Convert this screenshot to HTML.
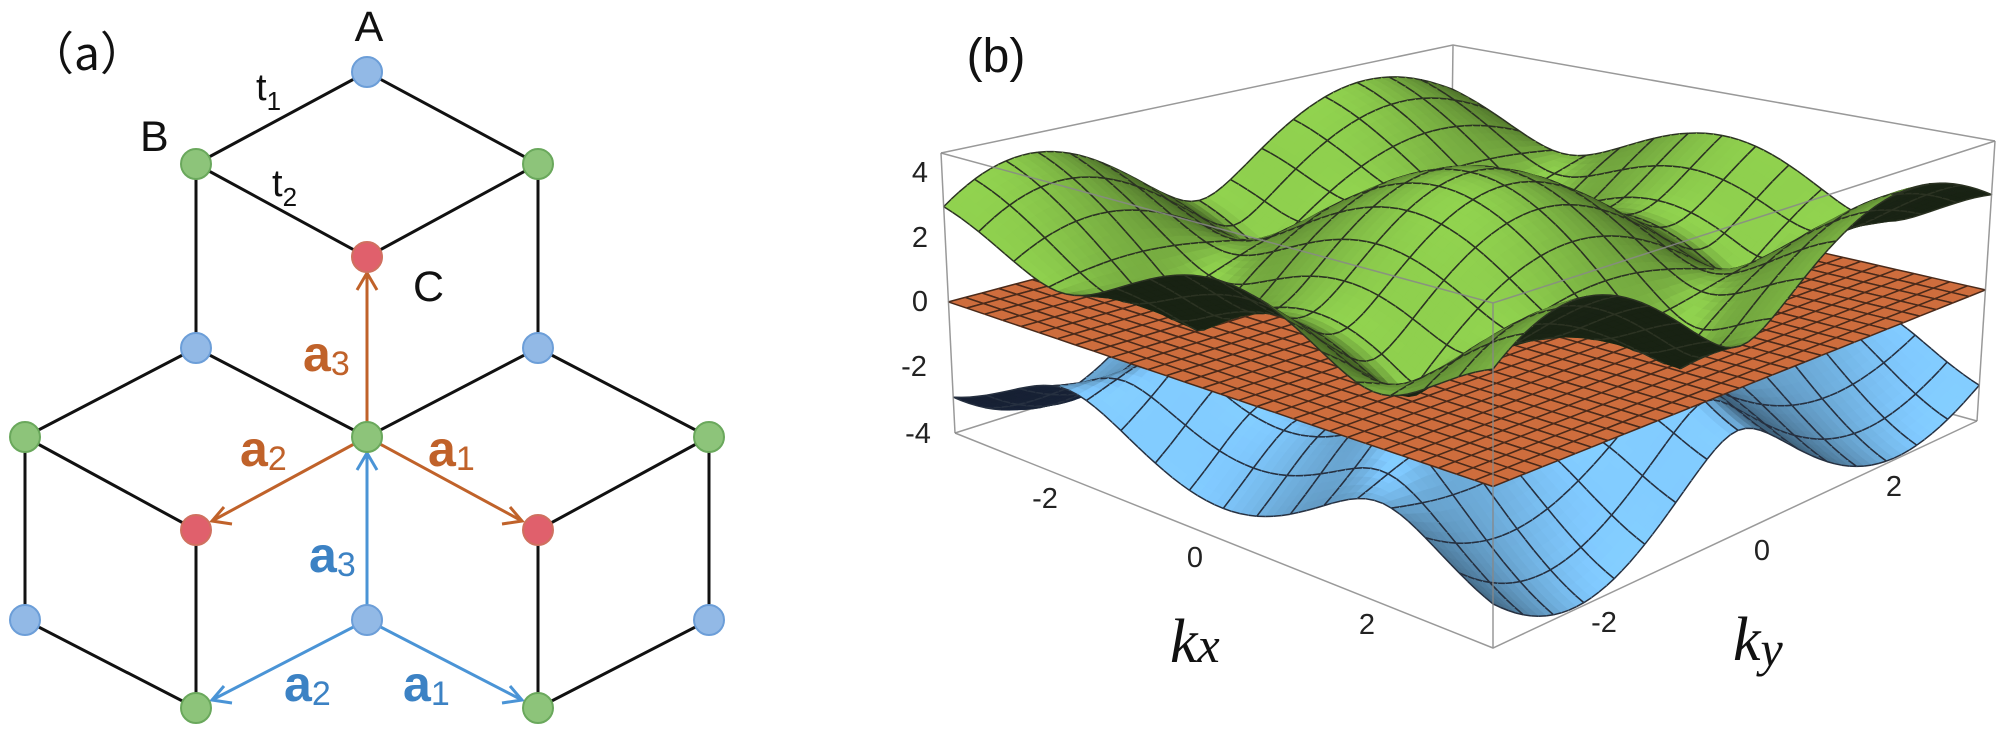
<!DOCTYPE html>
<html><head><meta charset="utf-8"><style>
html,body{margin:0;padding:0;background:#fff;}
svg{display:block;}
</style></head><body>
<svg id="s" width="2004" height="749" viewBox="0 0 2004 749" xmlns="http://www.w3.org/2000/svg">
<rect width="2004" height="749" fill="#fff"/>
<g id="pa">
<g stroke="#111" stroke-width="3" fill="none" stroke-linecap="round">
<line x1="367" y1="72" x2="196" y2="164"/>
<line x1="367" y1="72" x2="538" y2="164"/>
<line x1="196" y1="164" x2="367" y2="257"/>
<line x1="538" y1="164" x2="367" y2="257"/>
<line x1="196" y1="164" x2="196" y2="348"/>
<line x1="538" y1="164" x2="538" y2="348"/>
<line x1="196" y1="348" x2="367" y2="437"/>
<line x1="538" y1="348" x2="367" y2="437"/>
<line x1="196" y1="348" x2="25" y2="437"/>
<line x1="538" y1="348" x2="709" y2="437"/>
<line x1="25" y1="437" x2="196" y2="530"/>
<line x1="709" y1="437" x2="538" y2="530"/>
<line x1="25" y1="437" x2="25" y2="620"/>
<line x1="709" y1="437" x2="709" y2="620"/>
<line x1="196" y1="530" x2="196" y2="708"/>
<line x1="538" y1="530" x2="538" y2="708"/>
<line x1="25" y1="620" x2="196" y2="708"/>
<line x1="709" y1="620" x2="538" y2="708"/>
</g>
<g stroke="#c0622a" stroke-width="3" fill="none">
<line x1="367" y1="437" x2="367" y2="273"/>
<polyline points="357,290 367,273 377,290"/>
<line x1="367" y1="437" x2="212" y2="521"/>
<polyline points="232,524 212,521 224,507"/>
<line x1="367" y1="437" x2="522" y2="521"/>
<polyline points="502,524 522,521 510,507"/>
</g>
<g stroke="#4a94d6" stroke-width="3" fill="none">
<line x1="367" y1="620" x2="367" y2="453"/>
<polyline points="357,470 367,453 377,470"/>
<line x1="367" y1="620" x2="212" y2="700"/>
<polyline points="232,703 212,700 224,686"/>
<line x1="367" y1="620" x2="522" y2="700"/>
<polyline points="502,703 522,700 510,686"/>
</g>
<g stroke-width="2">
<circle cx="367" cy="72" r="15" fill="#92b9e6" stroke="#6c9ed8"/>
<circle cx="196" cy="348" r="15" fill="#92b9e6" stroke="#6c9ed8"/>
<circle cx="538" cy="348" r="15" fill="#92b9e6" stroke="#6c9ed8"/>
<circle cx="25" cy="620" r="15" fill="#92b9e6" stroke="#6c9ed8"/>
<circle cx="367" cy="620" r="15" fill="#92b9e6" stroke="#6c9ed8"/>
<circle cx="709" cy="620" r="15" fill="#92b9e6" stroke="#6c9ed8"/>
<circle cx="196" cy="164" r="15" fill="#8dc47a" stroke="#6aa85c"/>
<circle cx="538" cy="164" r="15" fill="#8dc47a" stroke="#6aa85c"/>
<circle cx="25" cy="437" r="15" fill="#8dc47a" stroke="#6aa85c"/>
<circle cx="367" cy="437" r="15" fill="#8dc47a" stroke="#6aa85c"/>
<circle cx="709" cy="437" r="15" fill="#8dc47a" stroke="#6aa85c"/>
<circle cx="196" cy="708" r="15" fill="#8dc47a" stroke="#6aa85c"/>
<circle cx="538" cy="708" r="15" fill="#8dc47a" stroke="#6aa85c"/>
<circle cx="367" cy="257" r="15" fill="#e0606c" stroke="#d07060"/>
<circle cx="196" cy="530" r="15" fill="#e0606c" stroke="#d07060"/>
<circle cx="538" cy="530" r="15" fill="#e0606c" stroke="#d07060"/>
</g>
<g font-family="Liberation Sans, sans-serif" fill="#111">
<text x="28" y="70" font-size="46" font-family="Noto Sans CJK SC, sans-serif">（a）</text>
<text x="369" y="41" font-size="43" text-anchor="middle">A</text>
<text x="140" y="151" font-size="43">B</text>
<text x="413" y="301" font-size="43">C</text>
<text x="256" y="100" font-size="38">t<tspan font-size="26" dy="10">1</tspan></text>
<text x="272" y="196" font-size="38">t<tspan font-size="26" dy="10">2</tspan></text>
</g>
<g font-family="Liberation Sans, sans-serif" fill="#c0622a">
<text x="303" y="371" font-size="50" font-weight="bold">a<tspan font-size="34" font-weight="normal" dy="4">3</tspan></text>
<text x="240" y="466" font-size="50" font-weight="bold">a<tspan font-size="34" font-weight="normal" dy="4">2</tspan></text>
<text x="428" y="466" font-size="50" font-weight="bold">a<tspan font-size="34" font-weight="normal" dy="4">1</tspan></text>
</g>
<g font-family="Liberation Sans, sans-serif" fill="#3c82c4">
<text x="309" y="572" font-size="50" font-weight="bold">a<tspan font-size="34" font-weight="normal" dy="4">3</tspan></text>
<text x="284" y="701" font-size="50" font-weight="bold">a<tspan font-size="34" font-weight="normal" dy="4">2</tspan></text>
<text x="403" y="701" font-size="50" font-weight="bold">a<tspan font-size="34" font-weight="normal" dy="4">1</tspan></text>
</g>
</g>
<g id="back" stroke="#999" stroke-width="1.5" fill="none">
<polyline points="941,153 1453,45 1995,141"/>
<line x1="1453" y1="45" x2="1450" y2="276"/>
<polyline points="955,433 1450,276 1977,421"/>
</g>
<g id="surf"></g>
<g id="front" stroke="#888" stroke-width="1.5" fill="none" opacity="0.85">
<polyline points="941,153 1493,303 1995,141"/>
<line x1="941" y1="153" x2="955" y2="433"/>
<line x1="1995" y1="141" x2="1977" y2="421"/>
<line x1="1493" y1="303" x2="1493" y2="648"/>
<polyline points="955,433 1493,648 1977,421"/>
</g>
<g font-family="Liberation Sans, sans-serif" fill="#222" font-size="29" text-anchor="middle">
<text x="996" y="72" font-size="48" fill="#111">(b)</text>
<text x="920" y="182">4</text>
<text x="920" y="247">2</text>
<text x="920" y="311">0</text>
<text x="914" y="376">-2</text>
<text x="918" y="443">-4</text>
<text x="1045" y="508">-2</text>
<text x="1195" y="567">0</text>
<text x="1367" y="634">2</text>
<text x="1604" y="632">-2</text>
<text x="1762" y="560">0</text>
<text x="1894" y="496">2</text>
</g>
<g font-family="Liberation Serif, serif" font-style="italic" fill="#111" font-size="62">
<text x="1170" y="662">k<tspan font-size="50">x</tspan></text>
<text x="1733" y="660">k<tspan font-size="50" dy="6">y</tspan></text>
</g>
</svg>
<script>
(function(){
var PI=Math.PI;
var B={l:[955,433],f:[1493,648],r:[1977,421],b:[1450,276]};
var T={l:[941,153],f:[1493,303],r:[1995,141],b:[1453,45]};
var zmin=-4.05,zmax=4.6;
function bil(C,u,v,i){return C.l[i]*(1-u)*(1-v)+C.f[i]*u*(1-v)+C.r[i]*u*v+C.b[i]*(1-u)*v;}
function proj(kx,ky,z){var u=(kx+PI)/(2*PI),v=(ky+PI)/(2*PI),t=(z-zmin)/(zmax-zmin);
 var bx=bil(B,u,v,0),by=bil(B,u,v,1),tx=bil(T,u,v,0),ty=bil(T,u,v,1);
 return [bx+(tx-bx)*t,by+(ty-by)*t,by*1.37+t*280*0.73];}
function fabs(kx,ky){var s=Math.sqrt(3)/2;
 var a=ky,b=-s*kx-0.5*ky,c=s*kx-0.5*ky;
 var re=Math.cos(a)+Math.cos(b)+Math.cos(c),im=Math.sin(a)+Math.sin(b)+Math.sin(c);
 return Math.sqrt(2)*Math.sqrt(re*re+im*im);}
var surfs=[
 {f:function(x,y){return fabs(x,y);},col:[132,192,72],back:[30,42,24],mesh:16,sub:4,lc:"#2b3222"},
 {f:function(x,y){return 0;},col:[222,118,66],back:[150,70,40],mesh:30,sub:1,lc:"#4a2a1a"},
 {f:function(x,y){return -fabs(x,y);},col:[120,188,238],back:[28,40,64],mesh:16,sub:4,lc:"#263040"}
];
var L=[0.35,-0.55,0.76];var ln=Math.hypot(L[0],L[1],L[2]);L=L.map(function(a){return a/ln;});
var items=[];
surfs.forEach(function(S){
 var N=S.mesh*S.sub,h=2*PI/N;
 var P=[];
 for(var i=0;i<=N;i++){P[i]=[];for(var j=0;j<=N;j++){var kx=-PI+i*h,ky=-PI+j*h;var z=S.f(kx,ky);P[i][j]=[kx,ky,z,proj(kx,ky,z)];}}
 for(var i=0;i<N;i++)for(var j=0;j<N;j++){
  var a=P[i][j],b=P[i+1][j],c=P[i+1][j+1],d=P[i][j+1];
  var pa=a[3],pb=b[3],pc=c[3],pd=d[3];
  var cr=(pc[0]-pa[0])*(pd[1]-pb[1])-(pc[1]-pa[1])*(pd[0]-pb[0]);
  var dzx=((b[2]+c[2])-(a[2]+d[2]))/2/h, dzy=((c[2]+d[2])-(a[2]+b[2]))/2/h;
  var sc=0.55;var n=[-dzx*sc,-dzy*sc,1];var nl=Math.hypot(n[0],n[1],n[2]);
  var dot=(n[0]*L[0]+n[1]*L[1]+n[2]*L[2])/nl;
  var col;
  if(cr>0){col=S.back.map(function(v){return Math.round(v*(0.8+0.4*Math.max(0,dot)));});}
  else {var k=0.38+0.72*Math.max(0,dot);col=S.col.map(function(v){return Math.min(255,Math.round(v*k));});}
  var key=(pa[2]+pb[2]+pc[2]+pd[2])/4;
  var pts=pa[0].toFixed(1)+","+pa[1].toFixed(1)+" "+pb[0].toFixed(1)+","+pb[1].toFixed(1)+" "+pc[0].toFixed(1)+","+pc[1].toFixed(1)+" "+pd[0].toFixed(1)+","+pd[1].toFixed(1);
  var lines="";
  function seg(p,q){lines+="M"+p[0].toFixed(1)+" "+p[1].toFixed(1)+"L"+q[0].toFixed(1)+" "+q[1].toFixed(1);}
  if(i%S.sub==0)seg(pa,pd);
  if((i+1)%S.sub==0)seg(pb,pc);
  if(j%S.sub==0)seg(pa,pb);
  if((j+1)%S.sub==0)seg(pd,pc);
  items.push({k:key,s:'<polygon points="'+pts+'" fill="rgb('+col.join(",")+')" stroke="rgb('+col.join(",")+')" stroke-width="0.6"/>'+(lines?'<path d="'+lines+'" stroke="'+S.lc+'" stroke-width="1.5" fill="none"/>':'')});
 }
});
items.sort(function(a,b){return a.k-b.k;});
document.getElementById("surf").innerHTML=items.map(function(o){return o.s;}).join("");
})();
</script>
</body></html>
